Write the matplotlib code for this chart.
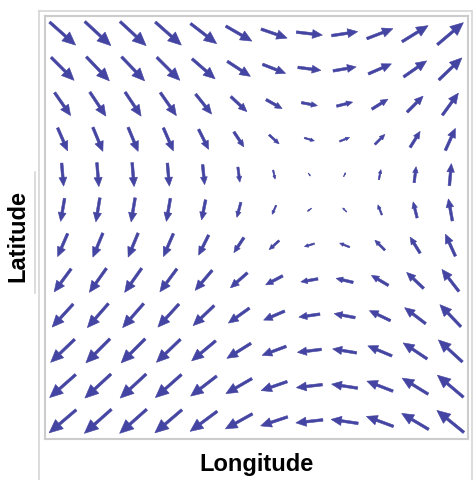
import numpy as np
import matplotlib
matplotlib.use('Agg')
import matplotlib.pyplot as plt
from matplotlib.lines import Line2D

# ---- DATA (in pixels; y up) ----
# horizontal component, one value per row (top row first)
u_rows = [26, 23, 16, 10, 2, -4, -10, -17, -21, -24, -26, -27]
# vertical component, one value per column (left column first)
v_cols = [-23, -24, -24, -23, -20, -15, -9, -3, 4, 10, 16, 22]

n_cols = len(v_cols)
n_rows = len(u_rows)
cell_px = 35.2  # pixels per grid cell, to turn readings into data units

arrow_color = '#4444a2'
frame_color = '#cccccc'

fig = plt.figure(figsize=(4.73, 4.81), dpi=100)
W, H = 473, 481
ax = fig.add_axes([45 / W, 1 - 440 / H, (468 - 45) / W, (440 - 17) / H])

xs = np.arange(n_cols) + 0.5
ys = n_rows - 0.5 - np.arange(n_rows)  # top row first

for j, y in enumerate(ys):
    for i, x in enumerate(xs):
        dx = u_rows[j] / cell_px
        dy = v_cols[i] / cell_px
        length = np.hypot(dx, dy)
        if length < 0.08:
            ax.plot(x, y, 'o', ms=2.5, color=arrow_color, mec='none')
            continue
        ax.arrow(x - dx / 2, y - dy / 2, dx, dy,
                 length_includes_head=True,
                 width=min(0.075, 0.15 * length),
                 head_width=0.34 * length,
                 head_length=0.38 * length,
                 color=arrow_color, lw=0.4)

ax.set_xlim(0, n_cols)
ax.set_ylim(0, n_rows)
ax.set_xticks([])
ax.set_yticks([])
for s in ax.spines.values():
    s.set_color(frame_color)
    s.set_linewidth(1.5)

# outer panel lines
def px_line(x0, y0, x1, y1, lw=1.2):
    fig.add_artist(Line2D([x0 / W, x1 / W], [1 - y0 / H, 1 - y1 / H],
                          color='#d6d6d6', lw=lw, transform=fig.transFigure))

px_line(39, 12, 472, 12)
px_line(39, 12, 39, 481)
px_line(472, 12, 472, 481)
px_line(35, 173, 35, 294)

fig.text(256 / W, 1 - 464 / H, 'Longitude', ha='center', va='center',
         fontsize=17, fontweight='bold', family='Liberation Sans')
fig.text(18 / W, 1 - 236 / H, 'Latitude', ha='center', va='center',
         rotation=90, fontsize=17, fontweight='bold', family='Liberation Sans')

fig.savefig('out.png', dpi=100)
